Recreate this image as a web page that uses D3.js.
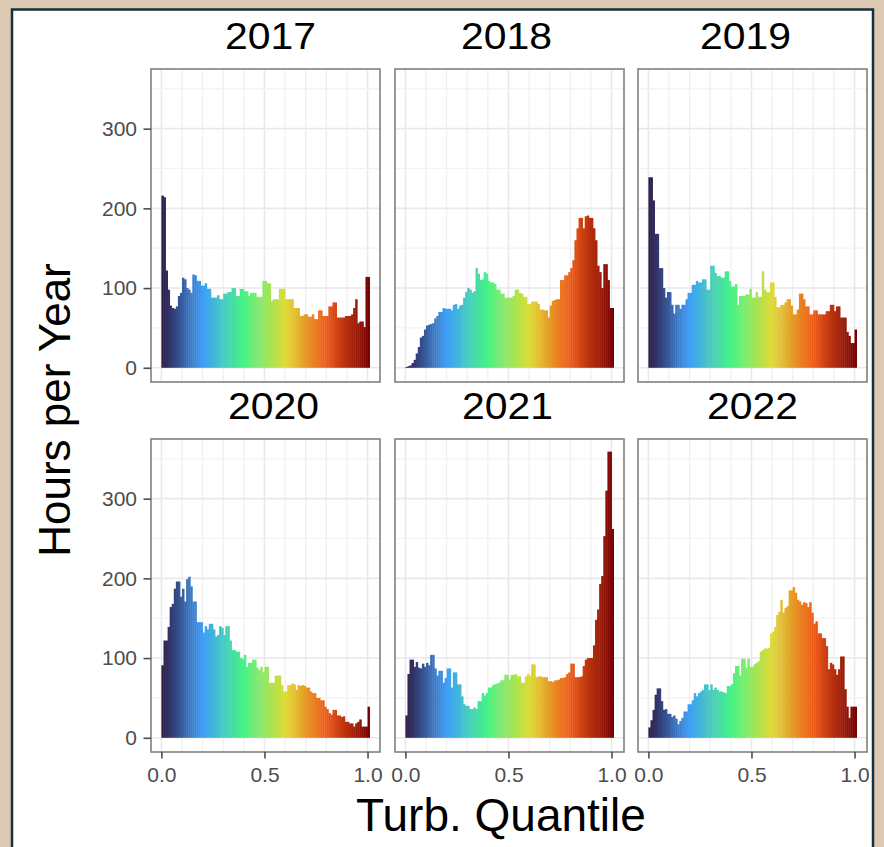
<!DOCTYPE html>
<html>
<head>
<meta charset="utf-8">
<script src="https://cdn.jsdelivr.net/npm/d3@7"></script>
<style>
  body { margin: 0; background: #dcc9b4; }
  svg { display: block; }
</style>
</head>
<body>
<div id="chart"></div>
<script>
// Turbidity quantile histograms, hours per year, one panel per year
const years = ['2017', '2018', '2019', '2020', '2021', '2022']
const binWidth = 0.01 // bins start at 0.00, 0.01, ... 1.00

const hours2017 = [216,214,122,98,78,75,74,77,90,94,
  113,111,100,98,94,117,116,109,109,103,
  103,106,99,99,88,88,88,91,86,86,
  93,93,95,95,100,100,90,90,99,99,
  96,96,90,94,94,94,89,89,89,109,
  109,106,106,84,86,86,86,99,99,99,
  86,86,86,86,75,75,75,65,65,67,
  67,64,64,67,61,61,72,72,65,65,
  65,77,77,82,82,63,63,63,63,65,
  65,65,67,75,86,56,58,58,51,114,
  114]
const hours2018 = [1,2,3,6,10,18,26,38,40,48,
  53,54,55,56,62,65,70,70,75,74,
  74,74,72,79,80,74,78,79,88,95,
  100,98,94,96,125,118,110,111,120,118,
  109,107,107,105,98,98,93,93,88,88,
  88,88,90,98,98,94,93,89,89,80,
  80,83,83,83,80,73,73,72,72,63,
  78,84,85,86,86,110,110,116,116,120,
  125,135,160,175,188,188,175,190,191,188,
  188,175,160,128,120,100,130,130,110,75,
  75]
const hours2019 = [239,239,210,168,168,125,125,100,88,95,
  95,79,68,79,79,74,79,79,86,94,
  94,104,104,109,107,107,111,111,98,98,
  128,128,119,115,115,113,113,121,121,109,
  102,102,105,79,90,90,90,92,92,99,
  88,88,95,89,89,121,98,95,95,107,
  107,89,76,76,79,79,82,86,86,78,
  67,67,73,93,93,86,77,77,67,67,
  72,72,67,67,67,67,71,71,79,79,
  71,77,77,63,63,63,45,40,31,31,
  48]
const hours2020 = [91,122,122,139,164,168,187,196,196,177,
  187,171,199,202,190,171,171,145,145,145,
  132,140,136,143,143,136,127,129,140,138,
  129,140,140,122,110,110,108,108,100,99,
  104,89,94,94,98,98,88,85,89,82,
  89,89,69,69,69,78,78,78,66,58,
  58,66,66,68,67,60,66,65,66,65,
  63,63,58,56,56,50,50,47,47,39,
  36,31,29,35,35,28,28,26,27,20,
  20,18,18,14,18,20,23,14,14,14,
  39]
const hours2021 = [28,80,98,98,89,95,88,87,93,89,
  94,91,104,104,87,78,84,84,69,75,
  87,87,63,82,82,67,67,52,42,40,
  40,36,36,38,36,46,46,56,53,56,
  63,63,66,67,68,69,72,72,79,79,
  73,79,79,80,77,77,69,69,77,80,
  78,92,92,76,77,77,76,76,76,71,
  71,70,72,72,73,75,75,76,80,82,
  93,93,76,76,76,77,90,98,100,100,
  100,116,148,161,193,203,253,310,359,359,
  262]
const hours2022 = [13,22,35,54,62,62,46,35,36,30,
  30,26,28,24,17,21,25,33,33,42,
  42,47,56,52,56,58,60,67,67,60,
  67,60,63,60,58,58,57,56,65,65,
  67,81,90,90,78,99,99,88,99,89,
  89,92,94,96,108,110,112,112,113,131,
  133,139,154,158,173,157,163,165,185,185,
  189,182,173,171,167,170,169,164,170,157,
  143,146,131,131,125,125,115,86,94,92,
  86,79,86,102,102,61,39,25,39,39,
  39]
const hoursByYear = [hours2017, hours2018, hours2019, hours2020, hours2021, hours2022]

const xTicks = [0, 0.5, 1]
const yTicks = [0, 100, 200, 300]
const fillStops = ['#2f1a45', '#3f9ff8', '#47f386', '#dedb37', '#ef5a18', '#7a0403']

const width = 884
const height = 847
const font = '"Liberation Sans", Arial, Helvetica, sans-serif'
const panel = { w: 229, h: 313, cols: [151, 395, 638], rows: [69, 439] }
const titleShift = [5, -3, -7, 8, -2, 0]

const svg = d3.select('#chart').append('svg')
  .attr('width', width)
  .attr('height', height)

svg.append('rect')
  .attr('width', width).attr('height', height)
  .attr('fill', '#dcc9b4')

// white card with dark edge
svg.append('rect')
  .attr('x', 12).attr('y', 9.5)
  .attr('width', 861).attr('height', 900)
  .attr('fill', '#ffffff')
  .attr('stroke', '#15303c').attr('stroke-width', 2.5)

const x = d3.scaleLinear().domain([-0.0505, 1.0605]).range([0, panel.w])
const y = d3.scaleLinear().domain([-17.85, 374.85]).range([panel.h, 0])
const fill = d3.scaleLinear()
  .domain(d3.range(fillStops.length).map(i => i / (fillStops.length - 1)))
  .range(fillStops)

const xGrid = d3.range(0, 11).map(i => i / 10)
const yMinor = [50, 150, 250, 350]

years.forEach((year, k) => {
  const col = k % 3
  const row = Math.floor(k / 3)
  const g = svg.append('g')
    .attr('transform', `translate(${panel.cols[col]},${panel.rows[row]})`)

  // grid
  g.selectAll('.gx')
    .data(xGrid)
    .join('line')
    .attr('x1', d => x(d)).attr('x2', d => x(d))
    .attr('y1', 0).attr('y2', panel.h)
    .attr('stroke', d => xTicks.includes(d) ? '#e9e9e9' : '#efefef')
    .attr('stroke-width', d => xTicks.includes(d) ? 1.6 : 1.2)
  g.selectAll('.gym')
    .data(yMinor)
    .join('line')
    .attr('x1', 0).attr('x2', panel.w)
    .attr('y1', d => y(d)).attr('y2', d => y(d))
    .attr('stroke', '#f2f2f2').attr('stroke-width', 1.2)
  g.selectAll('.gy')
    .data(yTicks)
    .join('line')
    .attr('x1', 0).attr('x2', panel.w)
    .attr('y1', d => y(d)).attr('y2', d => y(d))
    .attr('stroke', '#e9e9e9').attr('stroke-width', 1.6)

  // histogram bars, coloured by quantile
  const bins = hoursByYear[k].map((v, i) => ({ x0: i * binWidth, v }))
  g.selectAll('.bar')
    .data(bins)
    .join('rect')
    .attr('x', d => x(d.x0))
    .attr('width', d => x(d.x0 + binWidth) - x(d.x0) + 0.4)
    .attr('y', d => y(d.v))
    .attr('height', d => y(0) - y(d.v))
    .attr('fill', d => fill(d.x0 + binWidth / 2))

  g.append('rect')
    .attr('width', panel.w).attr('height', panel.h)
    .attr('fill', 'none')
    .attr('stroke', '#808080').attr('stroke-width', 1.6)

  if (col === 0) {
    g.append('g')
      .call(d3.axisLeft(y).tickValues(yTicks).tickSize(7.5).tickPadding(6.5))
      .call(a => {
        a.select('.domain').remove()
        a.selectAll('.tick line').attr('stroke', '#4d4d4d').attr('stroke-width', 1.6)
        a.selectAll('.tick text')
          .attr('fill', '#4d4d4d').attr('font-size', '21px')
          .attr('font-family', font)
      })
  }
  if (row === 1) {
    g.append('g')
      .attr('transform', `translate(0,${panel.h})`)
      .call(d3.axisBottom(x).tickValues(xTicks).tickFormat(d3.format('.1f')).tickSize(6.5).tickPadding(8.5))
      .call(a => {
        a.select('.domain').remove()
        a.selectAll('.tick line').attr('stroke', '#4d4d4d').attr('stroke-width', 1.6)
        a.selectAll('.tick text')
          .attr('fill', '#4d4d4d').attr('font-size', '21px')
          .attr('font-family', font)
      })
  }

  // year title
  svg.append('text')
    .attr('x', panel.cols[col] + panel.w / 2 + titleShift[k])
    .attr('y', panel.rows[row] - 20.5)
    .attr('text-anchor', 'middle')
    .attr('font-family', font).attr('font-size', '37px')
    .attr('textLength', 91).attr('lengthAdjust', 'spacingAndGlyphs')
    .attr('fill', '#000')
    .text(year)
})

svg.append('text')
  .attr('transform', 'translate(70,410) rotate(-90)')
  .attr('text-anchor', 'middle')
  .attr('font-family', font).attr('font-size', '44px')
  .attr('fill', '#000')
  .text('Hours per Year')

svg.append('text')
  .attr('x', 501).attr('y', 831)
  .attr('text-anchor', 'middle')
  .attr('font-family', font).attr('font-size', '46px')
  .attr('fill', '#000')
  .text('Turb. Quantile')
</script>
</body>
</html>
